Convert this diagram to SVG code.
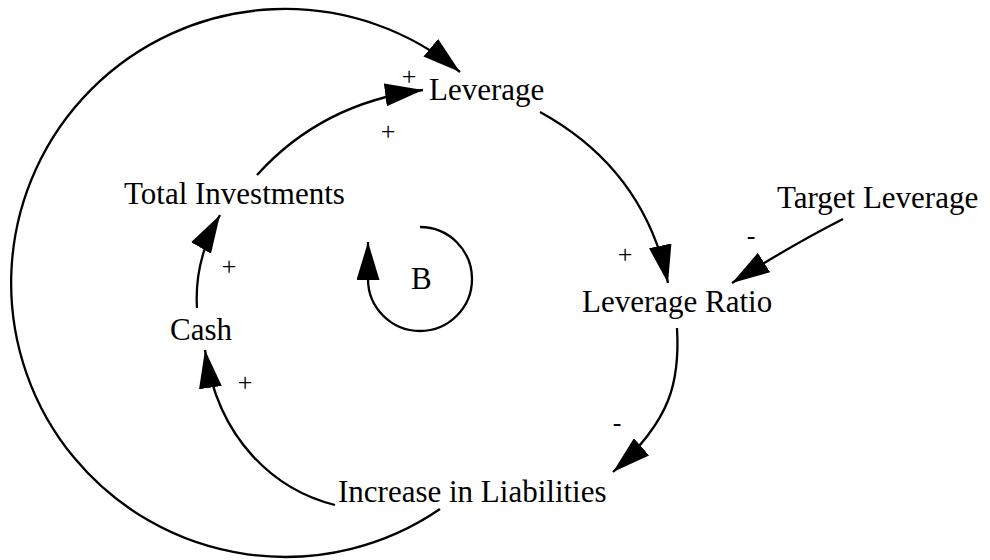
<svg xmlns="http://www.w3.org/2000/svg" width="990" height="560" viewBox="0 0 990 560">
<style>
.lbl{font-family:"Liberation Serif","Times New Roman",serif;font-size:31px;fill:#000}
.sgn{font-family:"Liberation Serif","Times New Roman",serif;font-size:26px;fill:#000;text-anchor:middle}
.ln{fill:none;stroke:#000;stroke-width:2.3}
</style>
<defs>
<marker id="ah" markerUnits="userSpaceOnUse" markerWidth="38" markerHeight="23" viewBox="0 0 38 23" refX="38" refY="11.5" orient="auto">
<path d="M0,0 L38,11.5 L0,23 z" fill="#000"/>
</marker>
</defs>
<rect width="990" height="560" fill="#fff"/>
<g id="connectors">
<path class="ln" d="M440,509 A274,274 0 1 1 460,72" marker-end="url(#ah)"/>
<path class="ln" d="M257,175 Q322,103 423,90" marker-end="url(#ah)"/>
<path class="ln" d="M540,112 Q644,169 668,283" marker-end="url(#ah)"/>
<path class="ln" d="M843,219 Q790,246 732,283" marker-end="url(#ah)"/>
<path class="ln" d="M677,328 C680,380 672,420 613,472" marker-end="url(#ah)"/>
<path class="ln" d="M335,505 C275,490 218,440 205,350" marker-end="url(#ah)"/>
<path class="ln" d="M197,308 Q194,260 220,215" marker-end="url(#ah)"/>
<path class="ln" d="M420,227 A52,52 0 1 1 368,279 L368,242" marker-end="url(#ah)"/>
</g>
<g id="signs">
<text class="sgn" x="409" y="85">+</text>
<text class="sgn" x="388" y="140">+</text>
<text class="sgn" x="625" y="263">+</text>
<text class="sgn" x="751" y="244">-</text>
<text class="sgn" x="617" y="431">-</text>
<text class="sgn" x="229" y="275">+</text>
<text class="sgn" x="245" y="391">+</text>
</g>
<g id="leverage"><text class="lbl" x="429" y="100">Leverage</text></g>
<g id="total-investments"><text class="lbl" x="124" y="204">Total Investments</text></g>
<g id="target-leverage"><text class="lbl" x="777" y="208">Target Leverage</text></g>
<g id="leverage-ratio"><text class="lbl" x="582" y="312">Leverage Ratio</text></g>
<g id="cash"><text class="lbl" x="170" y="340">Cash</text></g>
<g id="increase-in-liabilities"><text class="lbl" x="338" y="502">Increase in Liabilities</text></g>
<g id="loop-b"><text class="lbl" x="411" y="289">B</text></g>
</svg>
